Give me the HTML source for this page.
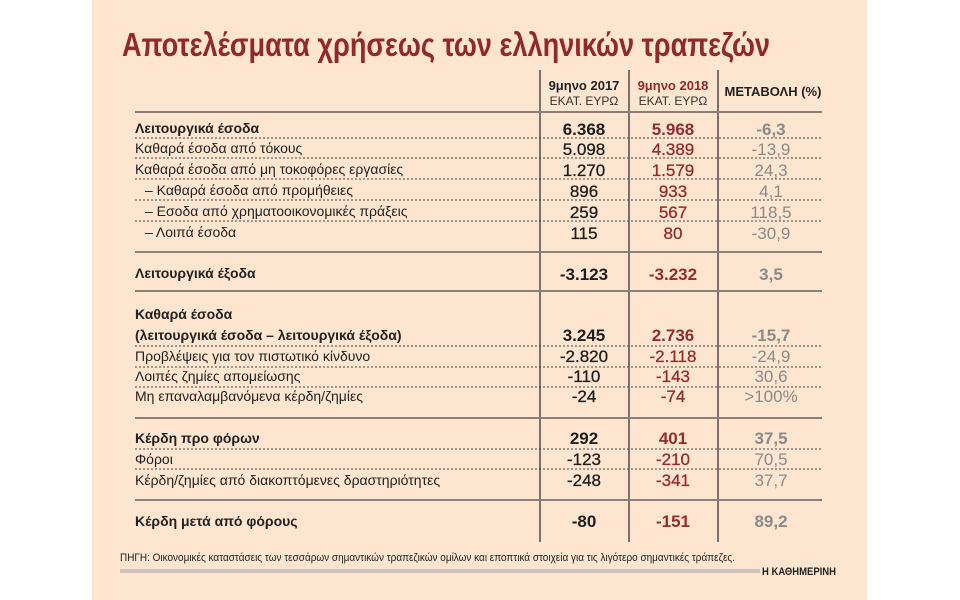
<!DOCTYPE html>
<html><head><meta charset="utf-8"><style>
html,body{margin:0;padding:0;background:#fff;}
svg{display:block;}
</style></head><body>
<svg width="960" height="600" viewBox="0 0 960 600" xmlns="http://www.w3.org/2000/svg" font-family="Liberation Sans, DejaVu Sans, sans-serif">
<rect x="0" y="0" width="960" height="600" fill="#fff"/>
<rect x="92" y="0" width="775" height="600" fill="#fde5d0"/>
<text x="122" y="56" font-size="33" font-weight="bold" fill="#8f2a2f" textLength="648" lengthAdjust="spacingAndGlyphs">Αποτελέσματα χρήσεως των ελληνικών τραπεζών</text>

<g stroke="#333" stroke-width="1.3">
<line x1="540" y1="70" x2="540" y2="542"/>
<line x1="629" y1="70" x2="629" y2="542"/>
<line x1="718" y1="70" x2="718" y2="542"/>
</g>
<g stroke="#8a8078" stroke-width="2">
<line x1="135" y1="112" x2="822" y2="112"/>
<line x1="135" y1="252" x2="822" y2="252"/>
<line x1="135" y1="291" x2="822" y2="291"/>
<line x1="135" y1="418" x2="822" y2="418"/>
<line x1="135" y1="500" x2="822" y2="500"/>
</g>
<g stroke="#444" stroke-width="1" stroke-dasharray="2,2">
<line x1="135" y1="138" x2="822" y2="138"/>
<line x1="135" y1="158" x2="822" y2="158"/>
<line x1="135" y1="179" x2="822" y2="179"/>
<line x1="135" y1="200" x2="822" y2="200"/>
<line x1="135" y1="221" x2="822" y2="221"/>
<line x1="135" y1="346" x2="822" y2="346"/>
<line x1="135" y1="367" x2="822" y2="367"/>
<line x1="135" y1="387" x2="822" y2="387"/>
<line x1="135" y1="449" x2="822" y2="449"/>
<line x1="135" y1="469" x2="822" y2="469"/>
</g>

<g text-anchor="middle">
<text x="584" y="90" font-size="13" font-weight="bold" fill="#222">9μηνο 2017</text>
<text x="584" y="105" font-size="12" fill="#333">ΕΚΑΤ. ΕΥΡΩ</text>
<text x="673" y="90" font-size="13" font-weight="bold" fill="#8f2a2f">9μηνο 2018</text>
<text x="673" y="105" font-size="12" fill="#333">ΕΚΑΤ. ΕΥΡΩ</text>
<text x="773" y="96" font-size="13" font-weight="bold" fill="#222">ΜΕΤΑΒΟΛΗ (%)</text>
</g>

<g font-size="14" fill="#222">
<text x="135" y="133" font-weight="bold">Λειτουργικά έσοδα</text>
<text x="135" y="153">Καθαρά έσοδα από τόκους</text>
<text x="135" y="174">Καθαρά έσοδα από μη τοκοφόρες εργασίες</text>
<text x="145" y="195">– Καθαρά έσοδα από προμήθειες</text>
<text x="145" y="216">– Εσοδα από χρηματοοικονομικές πράξεις</text>
<text x="145" y="237">– Λοιπά έσοδα</text>
<text x="135" y="278" font-weight="bold">Λειτουργικά έξοδα</text>
<text x="135" y="319" font-weight="bold">Καθαρά έσοδα</text>
<text x="135" y="340" font-weight="bold">(λειτουργικά έσοδα – λειτουργικά έξοδα)</text>
<text x="135" y="361">Προβλέψεις για τον πιστωτικό κίνδυνο</text>
<text x="135" y="381">Λοιπές ζημίες απομείωσης</text>
<text x="135" y="401">Μη επαναλαμβανόμενα κέρδη/ζημίες</text>
<text x="135" y="443" font-weight="bold">Κέρδη προ φόρων</text>
<text x="135" y="464">Φόροι</text>
<text x="135" y="485">Κέρδη/ζημίες από διακοπτόμενες δραστηριότητες</text>
<text x="135" y="526" font-weight="bold">Κέρδη μετά από φόρους</text>
</g>

<g text-anchor="middle" font-size="17">
<g fill="#1e1e1e">
<text x="584" y="135" font-weight="bold">6.368</text>
<text x="584" y="155" stroke="#1e1e1e" stroke-width="0.3">5.098</text>
<text x="584" y="176" stroke="#1e1e1e" stroke-width="0.3">1.270</text>
<text x="584" y="197" stroke="#1e1e1e" stroke-width="0.3">896</text>
<text x="584" y="218" stroke="#1e1e1e" stroke-width="0.3">259</text>
<text x="584" y="239" stroke="#1e1e1e" stroke-width="0.3">115</text>
<text x="584" y="280" font-weight="bold">-3.123</text>
<text x="584" y="341" font-weight="bold">3.245</text>
<text x="584" y="362" stroke="#1e1e1e" stroke-width="0.3">-2.820</text>
<text x="584" y="382" stroke="#1e1e1e" stroke-width="0.3">-110</text>
<text x="584" y="402" stroke="#1e1e1e" stroke-width="0.3">-24</text>
<text x="584" y="444" font-weight="bold">292</text>
<text x="584" y="465" stroke="#1e1e1e" stroke-width="0.3">-123</text>
<text x="584" y="486" stroke="#1e1e1e" stroke-width="0.3">-248</text>
<text x="584" y="527" font-weight="bold">-80</text>
</g>
<g fill="#932c30">
<text x="673" y="135" font-weight="bold">5.968</text>
<text x="673" y="155" stroke="#932c30" stroke-width="0.3">4.389</text>
<text x="673" y="176" stroke="#932c30" stroke-width="0.3">1.579</text>
<text x="673" y="197" stroke="#932c30" stroke-width="0.3">933</text>
<text x="673" y="218" stroke="#932c30" stroke-width="0.3">567</text>
<text x="673" y="239" stroke="#932c30" stroke-width="0.3">80</text>
<text x="673" y="280" font-weight="bold">-3.232</text>
<text x="673" y="341" font-weight="bold">2.736</text>
<text x="673" y="362" stroke="#932c30" stroke-width="0.3">-2.118</text>
<text x="673" y="382" stroke="#932c30" stroke-width="0.3">-143</text>
<text x="673" y="402" stroke="#932c30" stroke-width="0.3">-74</text>
<text x="673" y="444" font-weight="bold">401</text>
<text x="673" y="465" stroke="#932c30" stroke-width="0.3">-210</text>
<text x="673" y="486" stroke="#932c30" stroke-width="0.3">-341</text>
<text x="673" y="527" font-weight="bold">-151</text>
</g>
<g fill="#8c8a88">
<text x="771" y="135" font-weight="bold">-6,3</text>
<text x="771" y="155">-13,9</text>
<text x="771" y="176">24,3</text>
<text x="771" y="197">4,1</text>
<text x="771" y="218">118,5</text>
<text x="771" y="239">-30,9</text>
<text x="771" y="280" font-weight="bold">3,5</text>
<text x="771" y="341" font-weight="bold">-15,7</text>
<text x="771" y="362">-24,9</text>
<text x="771" y="382">30,6</text>
<text x="771" y="402">&gt;100%</text>
<text x="771" y="444" font-weight="bold">37,5</text>
<text x="771" y="465">70,5</text>
<text x="771" y="486">37,7</text>
<text x="771" y="527" font-weight="bold">89,2</text>
</g>
</g>

<text x="120" y="561" font-size="11" fill="#222" textLength="615" lengthAdjust="spacingAndGlyphs">ΠΗΓΗ: Οικονομικές καταστάσεις των τεσσάρων σημαντικών τραπεζικών ομίλων και εποπτικά στοιχεία για τις λιγότερο σημαντικές τράπεζες.</text>
<rect x="120" y="569" width="640" height="4" fill="#c9c1ba"/>
<text x="762" y="575" font-size="11" font-weight="bold" fill="#222" textLength="74" lengthAdjust="spacingAndGlyphs">Η ΚΑΘΗΜΕΡΙΝΗ</text>
</svg>
</body></html>
